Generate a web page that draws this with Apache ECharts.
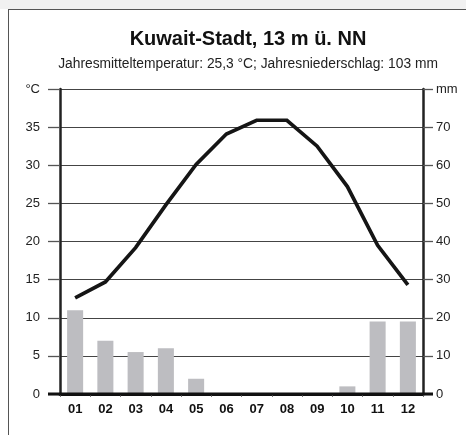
<!DOCTYPE html>
<html>
<head>
<meta charset="utf-8">
<script src="https://cdn.jsdelivr.net/npm/echarts@6/dist/echarts.min.js"></script>
<style>html,body{margin:0;padding:0;background:#fff}#c{width:466px;height:435px}</style>
</head>
<body>
<div id="c"></div>
<script>
const months = ['01','02','03','04','05','06','07','08','09','10','11','12'];
const temperature = [12.6, 14.7, 19.2, 24.8, 30.1, 34.1, 35.9, 35.9, 32.5, 27.2, 19.5, 14.3];
const precipitation = [22, 14, 11, 12, 4, 0, 0, 0, 0, 2, 19, 19];
const titleText = 'Kuwait-Stadt, 13 m ü. NN';
const subtitleText = 'Jahresmitteltemperatur: 25,3 °C; Jahresniederschlag: 103 mm';

const FONT = '"Liberation Sans", Arial, Helvetica, sans-serif';
const chart = echarts.init(document.getElementById('c'), null, {renderer: 'canvas'});
chart.setOption({
  animation: false,
  backgroundColor: '#fff',
  title: {
    text: titleText,
    subtext: subtitleText,
    left: 243, textAlign: 'center', top: 24, itemGap: 8,
    textStyle: {fontFamily: FONT, fontSize: 20, fontWeight: 'bold', color: '#111'},
    subtextStyle: {fontFamily: FONT, fontSize: 13.8, color: '#222'}
  },
  grid: {left: 60, right: 43, top: 89, bottom: 41},
  xAxis: {
    type: 'category', data: months,
    axisLine: {show: true, lineStyle: {color: '#111', width: 3}},
    axisTick: {show: true, length: 3, lineStyle: {color: '#777', width: 1}},
    axisLabel: {fontFamily: FONT, fontSize: 13, fontWeight: 'bold', color: '#111', margin: 9}
  },
  yAxis: [
    {
      type: 'value', min: 0, max: 40, interval: 5, position: 'left',
      axisLine: {show: true, lineStyle: {color: '#222', width: 2.5}},
      axisTick: {show: true, inside: false, length: 12, lineStyle: {color: '#555', width: 1.3}},
      splitLine: {show: true, lineStyle: {color: '#444', width: 1.2}},
      axisLabel: {fontFamily: FONT, fontSize: 13, color: '#222', margin: 20,
        formatter: v => v === 40 ? '°C' : String(v)}
    },
    {
      type: 'value', min: 0, max: 80, interval: 10, position: 'right',
      axisLine: {show: true, lineStyle: {color: '#222', width: 2.5}},
      axisTick: {show: true, inside: false, length: 10, lineStyle: {color: '#555', width: 1.3}},
      splitLine: {show: false},
      axisLabel: {fontFamily: FONT, fontSize: 13, color: '#222', margin: 13,
        formatter: v => v === 80 ? 'mm' : String(v)}
    }
  ],
  series: [
    {
      type: 'bar', yAxisIndex: 1, data: precipitation, barWidth: '53%',
      itemStyle: {color: '#bdbdc1'}, z: 2
    },
    {
      type: 'line', yAxisIndex: 0, data: temperature, symbol: 'none',
      lineStyle: {color: '#151515', width: 3.7, cap: 'butt', join: 'miter'}, z: 3
    }
  ]
});
const y0 = chart.convertToPixel({yAxisIndex: 0}, 0);
chart.setOption({
  graphic: [
    {type: 'rect', shape: {x: 0, y: 0, width: 466, height: 9}, style: {fill: '#f1f1f1'}, silent: true},
    {type: 'line', shape: {x1: 8, y1: 9.5, x2: 466, y2: 9.5}, style: {stroke: '#555', lineWidth: 1}, silent: true},
    {type: 'line', shape: {x1: 8.5, y1: 9, x2: 8.5, y2: 435}, style: {stroke: '#555', lineWidth: 1}, silent: true},
    {type: 'line', shape: {x1: 48, y1: y0, x2: 433, y2: y0}, style: {stroke: '#111', lineWidth: 3}, z: 10, silent: true}
  ]
});
</script>
</body>
</html>
